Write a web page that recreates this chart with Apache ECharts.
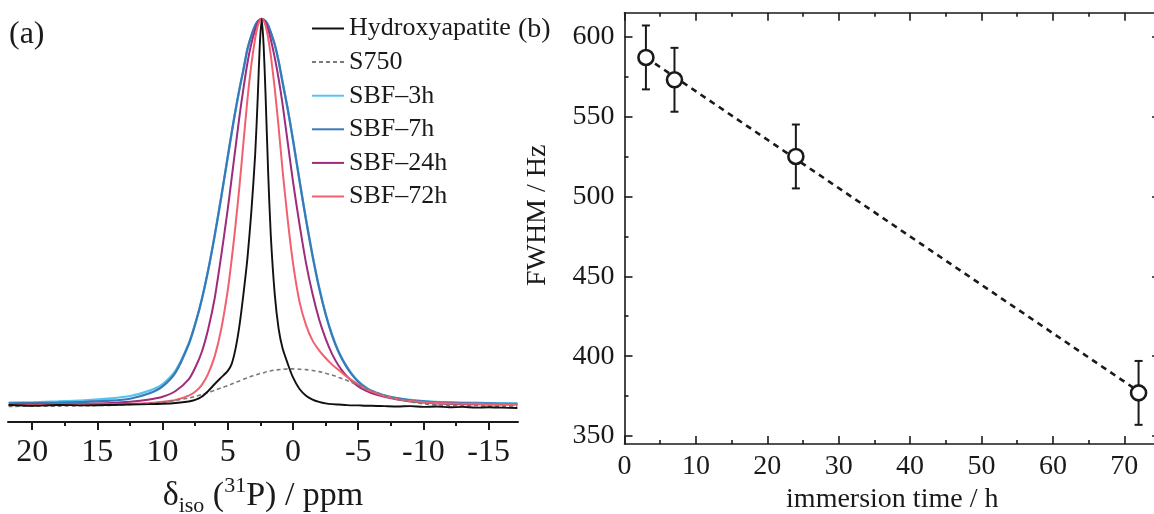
<!DOCTYPE html>
<html><head><meta charset="utf-8">
<script src="https://cdn.jsdelivr.net/npm/echarts@6/dist/echarts.min.js"></script>
<style>html,body{margin:0;padding:0;background:#fff}#c{width:1154px;height:514px}</style>
</head><body><div id="c"></div><script>
// ---- panel (a): 31P spectra (normalised intensity vs ppm) ----
const ppm = [21.8,20,18,16,14,12.5,11,10,9,8,7.5,7,6.5,6,5.5,5,4.7,4.4,4.1,3.8,3.5,3.2,2.9,2.7,2.55,2.4,2.25,2.1,1.9,1.7,1.4,1.1,0.8,0.4,0,-0.5,-1,-1.5,-2,-2.5,-3,-3.5,-4,-4.5,-5,-5.5,-6,-7,-8,-9,-10,-11,-12,-13,-14,-15,-16,-17.2];
const hydroxyapatite = [0.004,0.002,0.004,0.003,0.004,0.005,0.006,0.007,0.009,0.013,0.017,0.025,0.040,0.058,0.075,0.092,0.110,0.150,0.210,0.290,0.380,0.500,0.650,0.800,0.930,1.000,0.930,0.800,0.600,0.440,0.290,0.200,0.150,0.110,0.075,0.045,0.028,0.018,0.012,0.008,0.006,0.005,0.004,0.003,0.003,0.002,0.002,0.001,0.000,0.001,-0.001,0.000,-0.002,-0.001,-0.003,-0.002,-0.003,-0.004];
const s750 = [0.000,0.001,0.001,0.002,0.003,0.005,0.008,0.011,0.016,0.022,0.026,0.031,0.036,0.042,0.048,0.054,0.058,0.062,0.066,0.070,0.074,0.078,0.081,0.083,0.085,0.086,0.087,0.089,0.090,0.092,0.094,0.095,0.096,0.097,0.097,0.096,0.095,0.093,0.090,0.086,0.081,0.075,0.069,0.062,0.055,0.048,0.041,0.029,0.019,0.012,0.007,0.004,0.003,0.002,0.002,0.001,0.001,0.001];
const sbf3h = [0.010,0.011,0.013,0.016,0.021,0.027,0.041,0.058,0.093,0.163,0.214,0.276,0.352,0.441,0.540,0.644,0.706,0.765,0.819,0.869,0.921,0.956,0.983,0.994,0.998,1.000,0.998,0.994,0.983,0.965,0.934,0.891,0.837,0.768,0.689,0.584,0.483,0.390,0.308,0.240,0.185,0.142,0.110,0.085,0.066,0.052,0.041,0.029,0.022,0.017,0.014,0.012,0.011,0.010,0.010,0.009,0.009,0.008];
const sbf7h = [0.008,0.009,0.010,0.012,0.015,0.020,0.034,0.052,0.088,0.160,0.212,0.275,0.352,0.442,0.541,0.645,0.707,0.766,0.820,0.869,0.921,0.956,0.983,0.994,0.998,1.000,0.998,0.994,0.983,0.965,0.934,0.890,0.836,0.766,0.687,0.582,0.481,0.388,0.306,0.238,0.183,0.140,0.108,0.083,0.064,0.050,0.040,0.028,0.021,0.016,0.013,0.011,0.010,0.009,0.008,0.008,0.007,0.007];
const sbf24h = [0.004,0.005,0.006,0.007,0.009,0.012,0.018,0.025,0.040,0.070,0.100,0.140,0.200,0.280,0.390,0.510,0.590,0.670,0.750,0.820,0.885,0.935,0.972,0.990,0.997,1.000,0.997,0.990,0.972,0.947,0.900,0.845,0.780,0.680,0.580,0.470,0.370,0.290,0.225,0.175,0.135,0.105,0.083,0.066,0.052,0.042,0.035,0.025,0.018,0.013,0.010,0.008,0.007,0.006,0.006,0.005,0.005,0.005];
const sbf72h = [0.004,0.004,0.005,0.005,0.006,0.007,0.009,0.012,0.017,0.028,0.038,0.055,0.085,0.130,0.200,0.300,0.380,0.470,0.570,0.680,0.790,0.880,0.950,0.982,0.995,1.000,0.995,0.982,0.950,0.905,0.820,0.720,0.610,0.480,0.370,0.270,0.210,0.170,0.145,0.125,0.108,0.094,0.080,0.068,0.057,0.047,0.039,0.027,0.019,0.014,0.011,0.009,0.008,0.007,0.007,0.006,0.006,0.006];
const ppmTicks = [20,15,10,5,0,-5,-10,-15];
const ppmMinorTicks = [17.5,12.5,7.5,2.5,-2.5,-7.5,-12.5];

// ---- panel (b): FWHM vs immersion time ----
const times = [3,7,24,72];
const fwhm = [587,573,525,377];
const fwhmErr = [20,20,20,20];
const fitTimes = [3,72];
const fitValues = [587,378];
const fwhmTicks = [350,400,450,500,550,600];
const fwhmMinorTicks = [375,425,475,525,575];

const FF = '"Liberation Serif","Times New Roman",serif';
const INK = '#1a1a1a';
const pair = (xs, ys) => xs.map((x, i) => [x, ys[i]]);

const spec = (name, vals, color, width, type, z) => ({
  name, type: 'line', xAxisIndex: 0, yAxisIndex: 0, data: pair(ppm, vals),
  symbol: 'none', smooth: 0.25, z,
  lineStyle: { color, width, type }, itemStyle: { color }
});

const chart = echarts.init(document.getElementById('c'), null, { renderer: 'canvas' });
chart.setOption({
  animation: false,
  backgroundColor: '#fff',
  grid: [
    { left: 8, top: 15, width: 510, height: 407, outerBoundsMode: 'none', containLabel: false },
    { left: 624.5, top: 12.7, width: 535.5, height: 431.3, outerBoundsMode: 'none', containLabel: false }
  ],
  legend: {
    data: ['Hydroxyapatite', 'S750', 'SBF\u20133h', 'SBF\u20137h', 'SBF\u201324h', 'SBF\u201372h'],
    orient: 'vertical', left: 311, top: 15.5, padding: 0,
    itemWidth: 32, itemHeight: 14, itemGap: 7.6,
    itemStyle: { opacity: 0, borderWidth: 0 },
    textStyle: { fontFamily: FF, fontSize: 26, color: INK, lineHeight: 26 }
  },
  xAxis: [
    { gridIndex: 0, type: 'value', inverse: true, min: -17.25, max: 21.85, position: 'bottom',
      axisLine: { show: true, onZero: false, lineStyle: { color: INK, width: 2 } },
      axisTick: { show: true, inside: false, length: 8, customValues: ppmTicks, lineStyle: { color: INK, width: 2 } },
      axisLabel: { customValues: ppmTicks, fontFamily: FF, fontSize: 32, color: INK, margin: 15 },
      splitLine: { show: false },
      name: '{m|\u03b4}{s|iso}{m| (}{p|31}{m|P) / ppm}', nameLocation: 'middle', nameGap: 53,
      nameTextStyle: { fontFamily: FF, color: INK, rich: {
        m: { fontFamily: FF, fontSize: 34, color: INK, lineHeight: 42 },
        s: { fontFamily: FF, fontSize: 22, color: INK, lineHeight: 22, verticalAlign: 'bottom' },
        p: { fontFamily: FF, fontSize: 22, color: INK, lineHeight: 22, verticalAlign: 'top' }
      } } },
    { gridIndex: 0, type: 'value', inverse: true, min: -17.25, max: 21.85, position: 'bottom',
      axisLine: { show: false, onZero: false },
      axisTick: { show: true, inside: false, length: 4, customValues: ppmMinorTicks, lineStyle: { color: INK, width: 2 } },
      axisLabel: { show: false }, splitLine: { show: false } },
    { gridIndex: 1, type: 'value', min: 0, max: 75, interval: 10, position: 'bottom',
      axisLine: { show: true, onZero: false, lineStyle: { color: INK, width: 1.6 } },
      axisTick: { show: true, inside: true, length: 8, lineStyle: { color: INK, width: 1.6 } },
      minorTick: { show: true, splitNumber: 2, length: 4, lineStyle: { color: INK, width: 1.6 } },
      axisLabel: { fontFamily: FF, fontSize: 28, color: INK, margin: 9, showMaxLabel: false },
      splitLine: { show: false }, minorSplitLine: { show: false },
      name: 'immersion time / h', nameLocation: 'middle', nameGap: 42,
      nameTextStyle: { fontFamily: FF, fontSize: 28, color: INK } },
    { gridIndex: 1, type: 'value', min: 0, max: 75, interval: 10, position: 'top',
      axisLine: { show: true, onZero: false, lineStyle: { color: INK, width: 1.6 } },
      axisTick: { show: true, inside: true, length: 8, lineStyle: { color: INK, width: 1.6 } },
      minorTick: { show: true, splitNumber: 2, length: 4, lineStyle: { color: INK, width: 1.6 } },
      axisLabel: { show: false }, splitLine: { show: false } }
  ],
  yAxis: [
    { gridIndex: 0, type: 'value', min: -0.04, max: 1.01, show: false, axisLine: { onZero: false } },
    { gridIndex: 1, type: 'value', min: 345, max: 615, position: 'left',
      axisLine: { show: true, onZero: false, lineStyle: { color: INK, width: 1.6 } },
      axisTick: { show: true, inside: true, length: 8, customValues: fwhmTicks, lineStyle: { color: INK, width: 1.6 } },
      axisLabel: { customValues: fwhmTicks, fontFamily: FF, fontSize: 28, color: INK, margin: 10 },
      splitLine: { show: false },
      name: 'FWHM / Hz', nameLocation: 'middle', nameGap: 73,
      nameTextStyle: { fontFamily: FF, fontSize: 28, color: INK, padding: [0, 0, 0, 26] } },
    { gridIndex: 1, type: 'value', min: 345, max: 615, position: 'left',
      axisLine: { show: false, onZero: false },
      axisTick: { show: true, inside: true, length: 4, customValues: fwhmMinorTicks, lineStyle: { color: INK, width: 1.6 } },
      axisLabel: { show: false }, splitLine: { show: false } },
    { gridIndex: 1, type: 'value', min: 345, max: 615, position: 'right',
      axisLine: { show: true, onZero: false, lineStyle: { color: INK, width: 1.6 } },
      axisTick: { show: true, inside: true, length: 8, customValues: fwhmTicks, lineStyle: { color: INK, width: 1.6 } },
      axisLabel: { show: false }, splitLine: { show: false } }
  ],
  graphic: [
    { type: 'text', left: 9, top: 19, style: { text: '(a)', font: '32px ' + FF, fill: INK } },
    { type: 'text', left: 518, top: 16, style: { text: '(b)', font: '28px ' + FF, fill: INK } }
  ],
  series: [
    spec('SBF\u20133h', sbf3h, '#55c4ee', 2.2, 'solid', 2),
    spec('SBF\u20137h', sbf7h, '#3a79b9', 2.2, 'solid', 3),
    spec('SBF\u201324h', sbf24h, '#9e2b7c', 2.0, 'solid', 4),
    spec('SBF\u201372h', sbf72h, '#f2606f', 2.0, 'solid', 5),
    spec('S750', s750, '#7a7a7a', 1.6, [4, 3], 6),
    spec('Hydroxyapatite', hydroxyapatite, '#111111', 1.9, 'solid', 7),
    { name: 'fit', type: 'line', xAxisIndex: 2, yAxisIndex: 1, data: pair(fitTimes, fitValues),
      symbol: 'none', z: 2, lineStyle: { color: INK, width: 2.6, type: [6, 5] } },
    { name: 'err', type: 'custom', xAxisIndex: 2, yAxisIndex: 1, z: 3,
      data: times.map((t, i) => [t, fwhm[i] - fwhmErr[i], fwhm[i] + fwhmErr[i]]),
      encode: { x: 0, y: [1, 2] },
      renderItem: (params, api) => {
        const lo = api.coord([api.value(0), api.value(1)]);
        const hi = api.coord([api.value(0), api.value(2)]);
        const w = 4, st = { stroke: INK, lineWidth: 2 };
        return { type: 'group', children: [
          { type: 'line', shape: { x1: lo[0], y1: lo[1], x2: hi[0], y2: hi[1] }, style: st },
          { type: 'line', shape: { x1: lo[0] - w, y1: lo[1], x2: lo[0] + w, y2: lo[1] }, style: st },
          { type: 'line', shape: { x1: hi[0] - w, y1: hi[1], x2: hi[0] + w, y2: hi[1] }, style: st }
        ] };
      } },
    { name: 'FWHM', type: 'scatter', xAxisIndex: 2, yAxisIndex: 1, z: 5,
      data: pair(times, fwhm), symbol: 'circle', symbolSize: 15,
      itemStyle: { color: '#ffffff', borderColor: INK, borderWidth: 2.6, opacity: 1 } }
  ]
});
</script></body></html>
